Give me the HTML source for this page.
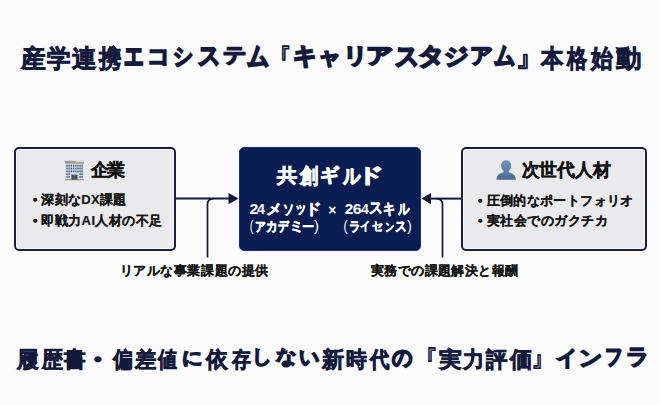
<!DOCTYPE html>
<html><head><meta charset="utf-8">
<style>
html,body{margin:0;padding:0;}
body{width:660px;height:405px;overflow:hidden;background:#fbfbfb;position:relative;font-family:"Liberation Sans",sans-serif;}
.t{position:absolute;white-space:nowrap;line-height:1;font-weight:bold;}
.box{position:absolute;box-sizing:border-box;border:2px solid #1b1f40;border-radius:5px;background:#eaeaed;box-shadow:inset 0 0 0 1px #f6f6f8;}
.dark{position:absolute;box-sizing:border-box;border-radius:5px;background:#0a1d52;border:1px solid #14317a;}
</style></head>
<body>
<div class="box" style="left:14px;top:147px;width:162px;height:104px;"></div>
<div class="dark" style="left:239px;top:147px;width:182px;height:104px;"></div>
<div class="box" style="left:461px;top:147px;width:186px;height:104px;"></div>
<svg width="660" height="405" style="position:absolute;left:0;top:0">
  <defs>
    <linearGradient id="pg" x1="0" y1="0" x2="0" y2="1">
      <stop offset="0" stop-color="#7496bd"/>
      <stop offset="1" stop-color="#486a92"/>
    </linearGradient>
  </defs>
  <g fill="none" stroke="#14183a" stroke-width="2">
    <path d="M176 198.6 H230"/>
    <path d="M207.5 257.5 V204.6 Q207.5 198.6 213.5 198.6" stroke-width="1.7"/>
    <path d="M461 198.6 H430"/>
    <path d="M442.5 257.5 V204.6 Q442.5 198.6 436.5 198.6" stroke-width="1.7"/>
  </g>
  <path d="M238.5 198.6 L228.5 193 L228.5 204.2 Z" fill="#14183a"/>
  <path d="M421.5 198.6 L431 193 L431 204.2 Z" fill="#14183a"/>
  <g transform="translate(65,160.8)">
    <rect x="0.2" y="2.6" width="18.6" height="16.4" fill="#d3dde7"/>
    <rect x="0" y="0" width="19" height="2.8" fill="#9c968a"/>
    <rect x="10.5" y="0" width="8.5" height="1.2" fill="#e4e1da"/>
    <g fill="#3b5878">
      <rect x="1.3" y="4" width="1.3" height="1.8"/><rect x="3.5" y="4" width="1.3" height="1.8"/><rect x="5.7" y="4" width="1.3" height="1.8"/><rect x="7.9" y="4" width="1.3" height="1.8"/><rect x="10.1" y="4" width="1.3" height="1.8"/><rect x="12.3" y="4" width="1.3" height="1.8"/><rect x="14.4" y="4" width="1.3" height="1.8"/><rect x="16.4" y="4" width="1.3" height="1.8"/>
      <rect x="1.3" y="6.8" width="1.3" height="1.8"/><rect x="3.5" y="6.8" width="1.3" height="1.8"/><rect x="5.7" y="6.8" width="1.3" height="1.8"/><rect x="7.9" y="6.8" width="1.3" height="1.8"/><rect x="10.1" y="6.8" width="1.3" height="1.8"/><rect x="12.3" y="6.8" width="1.3" height="1.8"/><rect x="14.4" y="6.8" width="1.3" height="1.8"/><rect x="16.4" y="6.8" width="1.3" height="1.8"/>
      <rect x="1.3" y="9.7" width="1.3" height="1.8"/><rect x="3.5" y="9.7" width="1.3" height="1.8"/><rect x="5.7" y="9.7" width="1.3" height="1.8"/><rect x="7.9" y="9.7" width="1.3" height="1.8"/><rect x="10.1" y="9.7" width="1.3" height="1.8"/><rect x="12.3" y="9.7" width="1.3" height="1.8"/><rect x="14.4" y="9.7" width="1.3" height="1.8"/><rect x="16.4" y="9.7" width="1.3" height="1.8"/>
      <rect x="1.3" y="12.5" width="1.3" height="1.8"/><rect x="3.5" y="12.5" width="1.3" height="1.8"/><rect x="14.4" y="12.5" width="1.3" height="1.8"/><rect x="16.4" y="12.5" width="1.3" height="1.8"/>
      <rect x="1.3" y="15.2" width="1.3" height="1.8"/><rect x="3.5" y="15.2" width="1.3" height="1.8"/><rect x="14.4" y="15.2" width="1.3" height="1.8"/><rect x="16.4" y="15.2" width="1.3" height="1.8"/>
    </g>
    <rect x="6" y="13.6" width="6.8" height="5.4" fill="#8e9aa6"/>
    <rect x="6.6" y="14.2" width="5.6" height="4.8" fill="#3f5064"/>
    <rect x="9.3" y="14.2" width="0.3" height="4.8" fill="#7f8c99"/>
    <rect x="0" y="18.6" width="19" height="0.8" fill="#77736b"/>
  </g>
  <path transform="translate(496.5,160.2)" fill="url(#pg)" d="M9.65 0 C12.6 0 14.7 2.3 14.7 5.4 C14.7 7.8 13.7 9.7 12.3 10.9 L12.3 12.3 C16.6 13.1 19.3 15.2 19.3 19.6 L0 19.6 C0 15.2 2.7 13.1 7 12.3 L7 10.9 C5.6 9.7 4.6 7.8 4.6 5.4 C4.6 2.3 6.7 0 9.65 0 Z"/>
</svg>

<div class="t" style="left:0;top:0;font-size:24.50px;color:#141a3c;-webkit-text-stroke:1.3px #141a3c;"><span style="position:absolute;left:20.74px;top:46.80px;-webkit-text-stroke-width:0.8px;transform:scale(0.988,1.000);transform-origin:12.01px 11.39px">産</span><span style="position:absolute;left:46.29px;top:46.80px;-webkit-text-stroke-width:0.8px;transform:scale(0.940,1.000);transform-origin:12.01px 12.37px">学</span><span style="position:absolute;left:71.87px;top:46.80px;-webkit-text-stroke-width:0.8px;transform:scale(0.977,1.000);transform-origin:12.13px 11.76px">連</span><span style="position:absolute;left:97.99px;top:46.80px;-webkit-text-stroke-width:0.8px;transform:scale(0.889,1.000);transform-origin:11.76px 12.13px">携</span><span style="position:absolute;left:121.65px;top:44.15px;-webkit-text-stroke-width:1.8px;transform:scale(0.805,1.114);transform-origin:12.25px 13.60px">エ</span><span style="position:absolute;left:146.04px;top:43.96px;-webkit-text-stroke-width:1.8px;transform:scale(0.910,0.920);transform-origin:11.76px 14.09px">コ</span><span style="position:absolute;left:171.00px;top:44.20px;-webkit-text-stroke-width:1.8px;transform:scale(0.822,0.952);transform-origin:12.49px 13.60px">シ</span><span style="position:absolute;left:197.09px;top:44.38px;-webkit-text-stroke-width:1.8px;transform:scale(0.920,1.029);transform-origin:11.52px 13.72px">ス</span><span style="position:absolute;left:221.57px;top:42.89px;-webkit-text-stroke-width:1.8px;transform:scale(0.940,0.854);transform-origin:12.13px 13.96px">テ</span><span style="position:absolute;left:246.20px;top:44.59px;-webkit-text-stroke-width:1.8px;transform:scale(0.896,1.064);transform-origin:12.01px 12.86px">ム</span><span style="position:absolute;left:267.38px;top:46.82px;-webkit-text-stroke-width:0.8px;transform:scale(0.969,1.234);transform-origin:18.38px 6.98px;font-weight:normal">『</span><span style="position:absolute;left:292.70px;top:44.05px;-webkit-text-stroke-width:1.8px;transform:scale(0.968,0.987);transform-origin:12.01px 13.60px">キ</span><span style="position:absolute;left:317.87px;top:43.94px;-webkit-text-stroke-width:1.8px;transform:scale(0.965,0.912);transform-origin:12.13px 15.31px">ャ</span><span style="position:absolute;left:342.69px;top:44.03px;-webkit-text-stroke-width:1.8px;transform:scale(1.025,0.918);transform-origin:12.01px 13.72px">リ</span><span style="position:absolute;left:367.13px;top:43.67px;-webkit-text-stroke-width:1.8px;transform:scale(1.118,0.902);transform-origin:12.62px 13.47px">ア</span><span style="position:absolute;left:394.88px;top:44.68px;-webkit-text-stroke-width:1.8px;transform:scale(0.974,1.060);transform-origin:11.52px 13.72px">ス</span><span style="position:absolute;left:418.91px;top:44.10px;-webkit-text-stroke-width:1.8px;transform:scale(1.051,0.964);transform-origin:11.39px 13.35px">タ</span><span style="position:absolute;left:443.56px;top:44.22px;-webkit-text-stroke-width:1.8px;transform:scale(1.010,0.952);transform-origin:12.49px 13.23px">ジ</span><span style="position:absolute;left:469.08px;top:43.67px;-webkit-text-stroke-width:1.8px;transform:scale(0.937,0.902);transform-origin:12.62px 13.47px">ア</span><span style="position:absolute;left:492.10px;top:44.29px;-webkit-text-stroke-width:1.8px;transform:scale(0.871,1.035);transform-origin:12.01px 12.86px">ム</span><span style="position:absolute;left:516.73px;top:44.55px;-webkit-text-stroke-width:0.8px;transform:scale(1.264,1.211);transform-origin:6.12px 17.15px;font-weight:normal">』</span><span style="position:absolute;left:539.72px;top:46.80px;-webkit-text-stroke-width:0.8px;transform:scale(0.893,1.000);transform-origin:11.88px 12.25px">本</span><span style="position:absolute;left:564.59px;top:46.80px;-webkit-text-stroke-width:0.8px;transform:scale(0.803,1.000);transform-origin:11.76px 12.49px">格</span><span style="position:absolute;left:589.62px;top:46.80px;-webkit-text-stroke-width:0.8px;transform:scale(0.877,1.000);transform-origin:11.88px 12.98px">始</span><span style="position:absolute;left:615.54px;top:46.80px;-webkit-text-stroke-width:0.8px;transform:scale(1.016,1.000);transform-origin:11.76px 12.74px">動</span></div>
<div class="t" style="left:0;top:0;font-size:22.30px;color:#141a3c;-webkit-text-stroke:1.3px #141a3c;"><span style="position:absolute;left:17.23px;top:349.00px;-webkit-text-stroke-width:0.7px;transform:scale(0.988,1.000);transform-origin:10.82px 11.48px">履</span><span style="position:absolute;left:41.07px;top:349.00px;-webkit-text-stroke-width:0.7px;transform:scale(0.948,1.000);transform-origin:10.93px 11.15px">歴</span><span style="position:absolute;left:64.23px;top:349.00px;-webkit-text-stroke-width:0.7px;transform:scale(0.981,1.000);transform-origin:10.82px 11.15px">書</span><span style="position:absolute;left:87.07px;top:349.00px;-webkit-text-stroke-width:1.7px;transform:scale(1.230,1.000);transform-origin:11.48px 11.04px">・</span><span style="position:absolute;left:112.13px;top:349.00px;-webkit-text-stroke-width:0.7px;transform:scale(0.896,1.000);transform-origin:10.37px 11.37px">偏</span><span style="position:absolute;left:134.50px;top:349.00px;-webkit-text-stroke-width:0.7px;transform:scale(0.967,1.000);transform-origin:10.70px 10.82px">差</span><span style="position:absolute;left:157.15px;top:349.00px;-webkit-text-stroke-width:0.7px;transform:scale(0.865,1.000);transform-origin:10.70px 11.48px">値</span><span style="position:absolute;left:181.45px;top:346.74px;-webkit-text-stroke-width:1.7px;transform:scale(0.920,0.816);transform-origin:11.15px 12.71px">に</span><span style="position:absolute;left:206.22px;top:349.00px;-webkit-text-stroke-width:0.7px;transform:scale(0.985,1.000);transform-origin:10.93px 11.37px">依</span><span style="position:absolute;left:229.95px;top:349.00px;-webkit-text-stroke-width:0.7px;transform:scale(0.856,1.000);transform-origin:10.70px 11.26px">存</span><span style="position:absolute;left:250.63px;top:346.36px;-webkit-text-stroke-width:1.7px;transform:scale(0.883,0.859);transform-origin:11.82px 12.49px">し</span><span style="position:absolute;left:275.45px;top:346.09px;-webkit-text-stroke-width:1.7px;transform:scale(0.932,0.866);transform-origin:10.70px 12.71px">な</span><span style="position:absolute;left:297.90px;top:346.66px;-webkit-text-stroke-width:1.7px;transform:scale(0.891,0.884);transform-origin:11.60px 12.49px">い</span><span style="position:absolute;left:322.10px;top:349.00px;-webkit-text-stroke-width:0.7px">新</span><span style="position:absolute;left:344.88px;top:349.00px;-webkit-text-stroke-width:0.7px;transform:scale(0.946,1.000);transform-origin:11.37px 11.15px">時</span><span style="position:absolute;left:368.71px;top:349.00px;-webkit-text-stroke-width:0.7px;transform:scale(0.887,1.000);transform-origin:10.59px 11.60px">代</span><span style="position:absolute;left:391.36px;top:346.69px;-webkit-text-stroke-width:1.7px;transform:scale(0.926,1.008);transform-origin:11.04px 12.71px">の</span><span style="position:absolute;left:414.82px;top:349.14px;-webkit-text-stroke-width:0.6px;transform:scale(1.084,1.320);transform-origin:16.73px 6.36px;font-weight:normal">『</span><span style="position:absolute;left:438.80px;top:349.00px;-webkit-text-stroke-width:0.7px;transform:scale(1.040,1.000);transform-origin:10.70px 10.93px">実</span><span style="position:absolute;left:463.42px;top:349.00px;-webkit-text-stroke-width:0.7px;transform:scale(0.965,1.000);transform-origin:9.48px 11.15px">力</span><span style="position:absolute;left:485.62px;top:349.00px;-webkit-text-stroke-width:0.7px;transform:scale(0.971,1.000);transform-origin:10.93px 11.15px">評</span><span style="position:absolute;left:509.64px;top:349.00px;-webkit-text-stroke-width:0.7px;transform:scale(1.013,1.000);transform-origin:10.26px 11.60px">価</span><span style="position:absolute;left:531.27px;top:346.54px;-webkit-text-stroke-width:0.6px;transform:scale(1.084,1.287);transform-origin:5.58px 15.61px;font-weight:normal">』</span><span style="position:absolute;left:555.47px;top:346.54px;-webkit-text-stroke-width:1.7px;transform:scale(0.931,0.919);transform-origin:10.04px 12.27px">イ</span><span style="position:absolute;left:579.32px;top:346.54px;-webkit-text-stroke-width:1.7px;transform:scale(1.009,0.922);transform-origin:11.48px 12.27px">ン</span><span style="position:absolute;left:602.97px;top:345.68px;-webkit-text-stroke-width:1.7px;transform:scale(0.809,1.004);transform-origin:10.93px 12.82px">フ</span><span style="position:absolute;left:626.22px;top:346.42px;-webkit-text-stroke-width:1.7px;transform:scale(1.008,0.968);transform-origin:10.48px 12.38px">ラ</span></div>
<div class="t" style="left:90.60px;top:161.60px;font-size:17.80px;letter-spacing:-1.200px;color:#111111;-webkit-text-stroke:0.35px #111111;">企業</div>
<div class="t" style="left:27.80px;top:193.40px;font-size:13.00px;letter-spacing:0.371px;color:#161616;-webkit-text-stroke:0.2px #161616;"><span style="display:inline-block;transform:scale(1.35)">・</span>深刻なDX課題</div>
<div class="t" style="left:27.80px;top:214.40px;font-size:13.00px;letter-spacing:0.440px;color:#161616;-webkit-text-stroke:0.2px #161616;"><span style="display:inline-block;transform:scale(1.35)">・</span>即戦力AI人材の不足</div>
<div class="t" style="left:0;top:0;font-size:20.00px;color:#ffffff;-webkit-text-stroke:0.6px #ffffff;"><span style="position:absolute;left:276.85px;top:164.90px;-webkit-text-stroke-width:0.7px;transform:scale(1.010,0.948);transform-origin:9.80px 10.40px">共</span><span style="position:absolute;left:298.75px;top:165.10px;-webkit-text-stroke-width:0.7px;transform:scale(0.931,1.074);transform-origin:9.40px 10.20px">創</span><span style="position:absolute;left:319.65px;top:165.45px;-webkit-text-stroke-width:1.1px;transform:scale(0.960,0.914);transform-origin:10.80px 10.30px">ギ</span><span style="position:absolute;left:341.60px;top:165.75px;-webkit-text-stroke-width:1.1px;transform:scale(0.863,1.048);transform-origin:10.20px 10.90px">ル</span><span style="position:absolute;left:361.20px;top:164.95px;-webkit-text-stroke-width:1.1px;transform:scale(1.322,1.000);transform-origin:12.30px 10.80px">ド</span></div>
<div class="t" style="left:0;top:0;font-size:14.50px;color:#ffffff;-webkit-text-stroke:0.3px #ffffff;"><span style="position:absolute;left:249.51px;top:202.25px;-webkit-text-stroke-width:0.0px;transform:scale(1.098,1.044);transform-origin:3.99px 7.25px">2</span><span style="position:absolute;left:257.37px;top:202.18px;-webkit-text-stroke-width:0.0px;transform:scale(0.989,1.059);transform-origin:4.13px 7.32px">4</span><span style="position:absolute;left:266.45px;top:201.76px;-webkit-text-stroke-width:0.5px;transform:scale(1.072,1.000);transform-origin:6.60px 7.68px">メ</span><span style="position:absolute;left:280.54px;top:202.06px;-webkit-text-stroke-width:0.5px;transform:scale(0.771,0.988);transform-origin:7.11px 8.19px">ソ</span><span style="position:absolute;left:292.65px;top:201.25px;-webkit-text-stroke-width:0.5px;transform:scale(0.786,1.018);transform-origin:7.25px 9.50px">ッ</span><span style="position:absolute;left:305.63px;top:202.12px;-webkit-text-stroke-width:0.5px;transform:scale(1.121,1.026);transform-origin:8.92px 7.83px">ド</span></div>
<div class="t" style="left:0;top:0;font-size:14.50px;color:#ffffff;-webkit-text-stroke:0.3px #ffffff;"><span style="position:absolute;left:328.22px;top:202.83px;-webkit-text-stroke-width:0.0px;transform:scale(0.957,0.957);transform-origin:4.28px 7.47px">×</span></div>
<div class="t" style="left:0;top:0;font-size:14.50px;color:#ffffff;-webkit-text-stroke:0.3px #ffffff;"><span style="position:absolute;left:345.26px;top:202.25px;-webkit-text-stroke-width:0.0px;transform:scale(1.056,1.044);transform-origin:3.99px 7.25px">2</span><span style="position:absolute;left:353.34px;top:202.18px;-webkit-text-stroke-width:0.0px;transform:scale(1.092,1.030);transform-origin:4.06px 7.32px">6</span><span style="position:absolute;left:361.42px;top:202.18px;-webkit-text-stroke-width:0.0px;transform:scale(0.976,1.059);transform-origin:4.13px 7.32px">4</span><span style="position:absolute;left:369.48px;top:201.28px;-webkit-text-stroke-width:0.5px;transform:scale(0.962,1.115);transform-origin:6.82px 8.12px">ス</span><span style="position:absolute;left:382.35px;top:201.55px;-webkit-text-stroke-width:0.5px;transform:scale(0.831,1.015);transform-origin:7.11px 8.05px">キ</span><span style="position:absolute;left:395.66px;top:202.00px;-webkit-text-stroke-width:0.5px;transform:scale(0.793,1.046);transform-origin:7.39px 7.90px">ル</span></div>
<div class="t" style="left:0;top:0;font-size:14.50px;color:#ffffff;-webkit-text-stroke:0.3px #ffffff;"><span style="position:absolute;left:248.65px;top:218.89px;-webkit-text-stroke-width:0.0px;transform:scale(0.739,0.946);transform-origin:2.75px 8.55px;font-weight:normal">(</span><span style="position:absolute;left:252.83px;top:219.13px;-webkit-text-stroke-width:0.5px;transform:scale(0.733,0.876);transform-origin:7.47px 7.97px">ア</span><span style="position:absolute;left:264.63px;top:219.00px;-webkit-text-stroke-width:0.5px;transform:scale(0.777,0.941);transform-origin:6.67px 7.90px">カ</span><span style="position:absolute;left:275.82px;top:218.58px;-webkit-text-stroke-width:0.5px;transform:scale(0.719,0.943);transform-origin:7.97px 7.97px">デ</span><span style="position:absolute;left:289.22px;top:219.05px;-webkit-text-stroke-width:0.5px;transform:scale(1.014,0.931);transform-origin:7.03px 8.05px">ミ</span><span style="position:absolute;left:300.75px;top:220.28px;-webkit-text-stroke-width:0.5px;transform:scale(0.817,0.870);transform-origin:7.25px 6.82px">ー</span><span style="position:absolute;left:314.47px;top:218.75px;-webkit-text-stroke-width:0.0px;transform:scale(1.034,0.968);transform-origin:2.03px 8.55px;font-weight:normal">)</span></div>
<div class="t" style="left:0;top:0;font-size:14.50px;color:#ffffff;-webkit-text-stroke:0.3px #ffffff;"><span style="position:absolute;left:343.14px;top:218.89px;-webkit-text-stroke-width:0.0px;transform:scale(0.837,0.946);transform-origin:2.75px 8.55px;font-weight:normal">(</span><span style="position:absolute;left:347.94px;top:219.05px;-webkit-text-stroke-width:0.5px;transform:scale(0.790,0.889);transform-origin:6.82px 8.05px">ラ</span><span style="position:absolute;left:358.33px;top:219.13px;-webkit-text-stroke-width:0.5px;transform:scale(0.719,0.841);transform-origin:6.53px 7.97px">イ</span><span style="position:absolute;left:370.34px;top:219.22px;-webkit-text-stroke-width:0.5px;transform:scale(0.769,0.839);transform-origin:6.96px 7.97px">セ</span><span style="position:absolute;left:381.58px;top:219.68px;-webkit-text-stroke-width:0.5px;transform:scale(0.630,0.804);transform-origin:7.47px 7.97px">ン</span><span style="position:absolute;left:394.33px;top:219.38px;-webkit-text-stroke-width:0.5px;transform:scale(0.812,0.969);transform-origin:6.82px 8.12px">ス</span><span style="position:absolute;left:407.27px;top:218.89px;-webkit-text-stroke-width:0.0px;transform:scale(0.936,0.946);transform-origin:2.03px 8.55px;font-weight:normal">)</span></div>
<div class="t" style="left:521.60px;top:161.90px;font-size:17.50px;letter-spacing:-0.100px;color:#111111;-webkit-text-stroke:0.35px #111111;">次世代人材</div>
<div class="t" style="left:473.20px;top:194.40px;font-size:13.00px;letter-spacing:0.382px;color:#161616;-webkit-text-stroke:0.2px #161616;"><span style="display:inline-block;transform:scale(1.35)">・</span>圧倒的なポートフォリオ</div>
<div class="t" style="left:473.20px;top:214.40px;font-size:13.00px;letter-spacing:0.511px;color:#161616;-webkit-text-stroke:0.2px #161616;"><span style="display:inline-block;transform:scale(1.35)">・</span>実社会でのガクチカ</div>
<div class="t" style="left:119.80px;top:264.40px;font-size:13.00px;letter-spacing:0.540px;color:#161616;-webkit-text-stroke:0.2px #161616;">リアルな事業課題の提供</div>
<div class="t" style="left:370.80px;top:264.40px;font-size:13.00px;letter-spacing:0.440px;color:#161616;-webkit-text-stroke:0.2px #161616;">実務での課題解決と報酬</div>
</body></html>
